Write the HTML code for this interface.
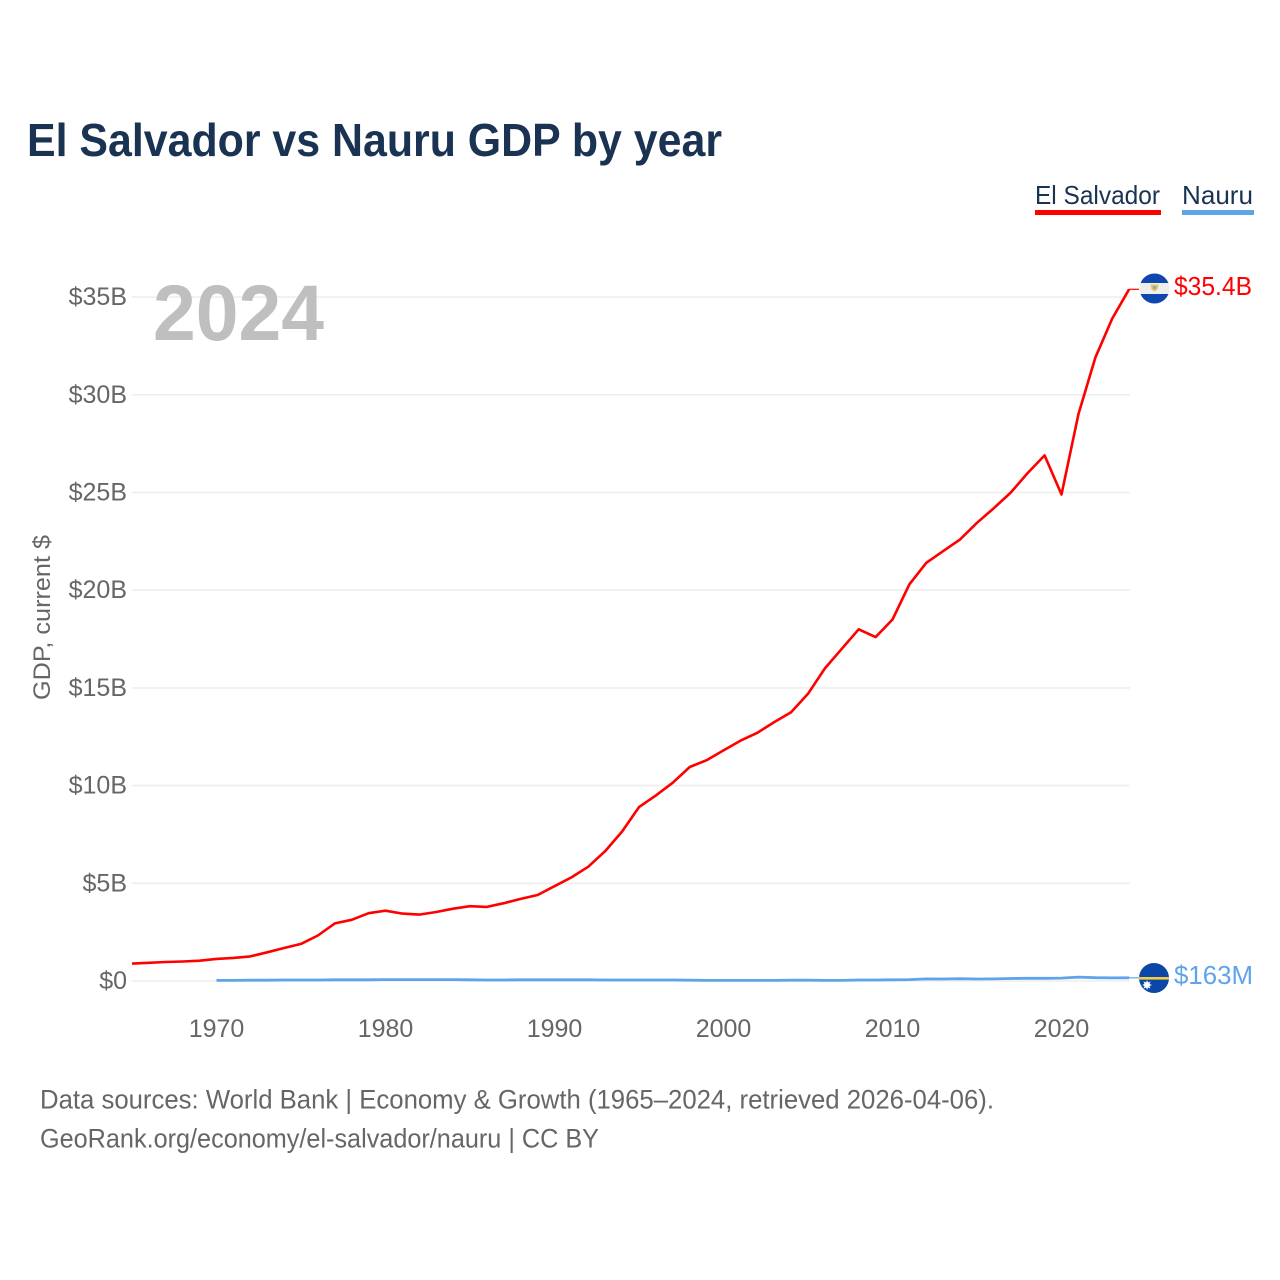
<!DOCTYPE html>
<html>
<head>
<meta charset="utf-8">
<title>El Salvador vs Nauru GDP by year</title>
<style>
html,body{margin:0;padding:0;background:#fff;}
svg{display:block;font-family:"Liberation Sans",sans-serif;}
</style>
</head>
<body>
<svg id="chart" width="1280" height="1280" viewBox="0 0 1280 1280" xmlns="http://www.w3.org/2000/svg">
  <rect width="1280" height="1280" fill="#ffffff"/>
  <text x="27" y="156" font-size="46" font-weight="700" fill="#1a3353" textLength="695" lengthAdjust="spacingAndGlyphs">El Salvador vs Nauru GDP by year</text>
  <g>
    <g>
      <text x="1035" y="204" font-size="26" fill="#1a3353" textLength="125" lengthAdjust="spacingAndGlyphs">El Salvador</text>
      <rect x="1035" y="210" width="126" height="5" fill="#ff0000"/>
    </g>
    <g>
      <text x="1182" y="204" font-size="26" fill="#1a3353" textLength="71" lengthAdjust="spacingAndGlyphs">Nauru</text>
      <rect x="1182" y="210" width="72" height="5" fill="#5fa4ea"/>
    </g>
  </g>
  <g id="grid"></g>
  <g id="yticks"></g>
  <g id="xticks"></g>
  <text transform="translate(50,700) rotate(-90)" font-size="24" fill="#666666" textLength="165" lengthAdjust="spacingAndGlyphs">GDP, current $</text>
  <text x="153" y="340" font-size="79" font-weight="700" fill="#bfbfbf" textLength="171" lengthAdjust="spacingAndGlyphs">2024</text>
  <g id="series"></g>
  <defs>
    <clipPath id="clip-sv"><circle cx="1154.5" cy="288.5" r="15"/></clipPath>
    <clipPath id="clip-nr"><circle cx="1154" cy="978" r="15"/></clipPath>
  </defs>
  <g clip-path="url(#clip-sv)">
    <rect x="1139" y="273" width="31" height="31" fill="#eeeeee"/>
    <rect x="1139" y="273" width="31" height="10" fill="#0f47af"/>
    <rect x="1139" y="294" width="31" height="10" fill="#0f47af"/>
    <path d="M1150.5 284.5 L1158.5 284.5 L1157.5 289.5 L1154.5 291.5 L1151.5 289.5 Z" fill="#e0c65a"/>
    <circle cx="1154.5" cy="287.5" r="1.6" fill="#8fa6c8"/>
  </g>
  <g clip-path="url(#clip-nr)">
    <rect x="1138" y="962" width="32" height="32" fill="#0a47a8"/>
    <rect x="1138" y="977" width="32" height="2.6" fill="#f2cf3d"/>
    <path d="M1147 980 L1148 982.5 L1150.5 981.5 L1149.5 984 L1152 985 L1149.5 986 L1150.5 988.5 L1148 987.5 L1147 990 L1146 987.5 L1143.5 988.5 L1144.5 986 L1142 985 L1144.5 984 L1143.5 981.5 L1146 982.5 Z" fill="#ffffff"/>
  </g>
  <text x="1174" y="295" font-size="26" fill="#ff0000" textLength="78" lengthAdjust="spacingAndGlyphs">$35.4B</text>
  <text x="1174" y="984" font-size="26" fill="#5fa4ea" textLength="79" lengthAdjust="spacingAndGlyphs">$163M</text>
  <g>
    <text x="40" y="1108.5" font-size="27" fill="#666666" textLength="954" lengthAdjust="spacingAndGlyphs">Data sources: World Bank | Economy &amp; Growth (1965–2024, retrieved 2026-04-06).</text>
    <text x="40" y="1147.5" font-size="27" fill="#666666" textLength="559" lengthAdjust="spacingAndGlyphs">GeoRank.org/economy/el-salvador/nauru | CC BY</text>
  </g>
</svg>
<script>
const yTickValues = [0, 5, 10, 15, 20, 25, 30, 35];
const yTickLabels = ["$0", "$5B", "$10B", "$15B", "$20B", "$25B", "$30B", "$35B"];
const xTickYears = [1970, 1980, 1990, 2000, 2010, 2020];
const salvadorStartYear = 1965;
const salvadorGdp = [0.89,0.93,0.97,1.0,1.04,1.13,1.18,1.26,1.47,1.69,1.9,2.33,2.95,3.13,3.47,3.6,3.45,3.4,3.53,3.7,3.83,3.79,3.98,4.2,4.4,4.85,5.3,5.85,6.65,7.65,8.9,9.5,10.15,10.95,11.3,11.8,12.3,12.7,13.25,13.75,14.7,16.0,17.0,18.0,17.6,18.5,20.3,21.4,22.0,22.6,23.45,24.2,25.0,26.0,26.9,24.9,29.0,31.9,33.9,35.4];
const nauruStartYear = 1970;
const nauruGdp = [0.03,0.03,0.04,0.04,0.05,0.05,0.05,0.06,0.06,0.06,0.07,0.07,0.07,0.07,0.07,0.06,0.05,0.05,0.06,0.06,0.06,0.06,0.06,0.05,0.05,0.05,0.05,0.05,0.04,0.03,0.03,0.03,0.03,0.03,0.04,0.04,0.03,0.03,0.05,0.05,0.06,0.07,0.11,0.1,0.12,0.1,0.11,0.13,0.14,0.14,0.15,0.2,0.17,0.16,0.163];

function xScale(year) { return 132 + (year - 1965) * 16.9; }
function yScale(value) { return 981 + 0.0 - value * 19.54; }

const svgNS = "http://www.w3.org/2000/svg";
function make(tag, attrs, parent, content) {
  const el = document.createElementNS(svgNS, tag);
  for (const k in attrs) el.setAttribute(k, attrs[k]);
  if (content !== undefined) el.textContent = content;
  parent.appendChild(el);
  return el;
}

const gridGroup = document.getElementById("grid");
const yTickGroup = document.getElementById("yticks");
const xTickGroup = document.getElementById("xticks");
const seriesGroup = document.getElementById("series");

yTickValues.forEach(function (v, i) {
  const y = yScale(v);
  const line = make("line", {x1: 132, x2: 1130, y1: y, y2: y, stroke: "#eeeeee", "stroke-width": 1.6}, gridGroup);
  
  
  const label = make("text", {x: 127, y: y + 8, "text-anchor": "end", "font-size": 25, fill: "#666666"}, yTickGroup, yTickLabels[i]);
  
  
});

xTickYears.forEach(function (year) {
  const label = make("text", {x: xScale(year), y: 1037, "text-anchor": "middle", "font-size": 25, fill: "#666666"}, xTickGroup, String(year));
  
  
});

function linePoints(values, startYear) {
  return values.map(function (v, i) {
    return xScale(startYear + i).toFixed(1) + "," + yScale(v).toFixed(1);
  });
}

function endConnector(values, startYear, endX) {
  const last = values[values.length - 1];
  return xScale(startYear + values.length - 1).toFixed(1) + "," + yScale(last).toFixed(1) + " " + endX + "," + yScale(last).toFixed(1);
}

const nauruLine = make("polyline", {points: linePoints(nauruGdp, nauruStartYear).join(" "), fill: "none", stroke: "#5fa4ea", "stroke-width": 2.8, "stroke-linejoin": "round"}, seriesGroup);



const nauruConnector = make("polyline", {points: endConnector(nauruGdp, nauruStartYear, 1139), fill: "none", stroke: "#5fa4ea", "stroke-width": 1.2}, seriesGroup);



const salvadorLine = make("polyline", {points: linePoints(salvadorGdp, salvadorStartYear).join(" "), fill: "none", stroke: "#ff0000", "stroke-width": 2.6, "stroke-linejoin": "round"}, seriesGroup);



const salvadorConnector = make("polyline", {points: endConnector(salvadorGdp, salvadorStartYear, 1139), fill: "none", stroke: "#ff0000", "stroke-width": 1.2}, seriesGroup);


</script>
</body>
</html>
